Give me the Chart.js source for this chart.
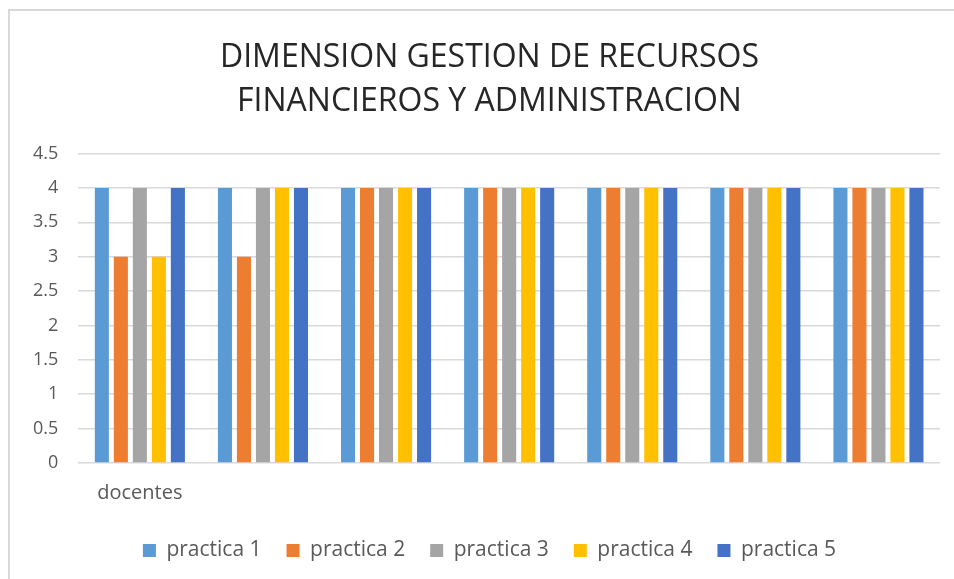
<!DOCTYPE html>
<html>
<head>
<meta charset="utf-8">
<script src="https://cdn.jsdelivr.net/npm/chart.js@4"></script>
<style>
  body { margin: 0; background: #fff; overflow: hidden; }
  #frame {
    position: absolute; left: 8px; top: 9px;
    width: 944px; height: 570px;
    border-left: 2px solid #d9d9d9; border-top: 2px solid #d9d9d9;
  }
</style>
</head>
<body>
<div id="frame"><canvas id="chart" width="944" height="570"></canvas></div>
<script>
// categorias (solo la primera tiene nombre)
var categories = ["docentes", "", "", "", "", "", ""];

var practica1 = [4, 4, 4, 4, 4, 4, 4];
var practica2 = [3, 3, 4, 4, 4, 4, 4];
var practica3 = [4, 4, 4, 4, 4, 4, 4];
var practica4 = [3, 4, 4, 4, 4, 4, 4];
var practica5 = [4, 4, 4, 4, 4, 4, 4];

var seriesNames = ["practica 1", "practica 2", "practica 3", "practica 4", "practica 5"];
var colors = ["#5b9bd5", "#ed7d31", "#a5a5a5", "#ffc000", "#4472c4"];

var font = "'Open Sans', 'Liberation Sans', sans-serif";

var values = [practica1, practica2, practica3, practica4, practica5];
var datasets = values.map(function (v, i) {
    return {
        label: seriesNames[i],
        data: v,
        backgroundColor: colors[i],
        borderWidth: 0,
        categoryPercentage: 0.772,
        barPercentage: 0.74
    };
});

new Chart(document.getElementById("chart"), {
    type: "bar",
    data: { labels: categories, datasets: datasets },
    options: {
        responsive: false,
        animation: false,
        // el marco original es mas ancho que la ventana: titulo y leyenda van centrados algo a la derecha
        layout: { padding: { left: 29, right: 14, top: 24, bottom: 10 } },
        plugins: {
            title: {
                display: true,
                text: ["DIMENSION GESTION DE RECURSOS", "FINANCIEROS Y ADMINISTRACION"],
                color: "#262626",
                font: { family: font, size: 32, weight: "normal", lineHeight: 1.4 },
                padding: { top: 0, bottom: 29 }
            },
            legend: {
                position: "bottom",
                labels: {
                    color: "#595959",
                    font: { family: font, size: 21 },
                    boxWidth: 13,
                    boxHeight: 13,
                    padding: 25
                }
            },
            tooltip: { enabled: false }
        },
        scales: {
            x: {
                grid: { display: false },
                border: { display: false },
                ticks: { color: "#595959", font: { family: font, size: 20 }, maxRotation: 0, autoSkip: false, padding: 10 }
            },
            y: {
                min: 0,
                max: 4.5,
                afterFit: function (scale) {
                    scale.width -= 26;
                    // sin recorte, las etiquetas salen un poco fuera del eje estrechado
                    scale._computeLabelArea = function () { return undefined; };
                },
                ticks: {
                    stepSize: 0.5,
                    color: "#595959",
                    font: { family: font, size: 18 },
                    padding: 20,
                    callback: function (v) { return v; }
                },
                grid: { color: "#d9d9d9", lineWidth: 1.5, drawTicks: false },
                border: { display: false }
            }
        }
    }
});
</script>
</body>
</html>
